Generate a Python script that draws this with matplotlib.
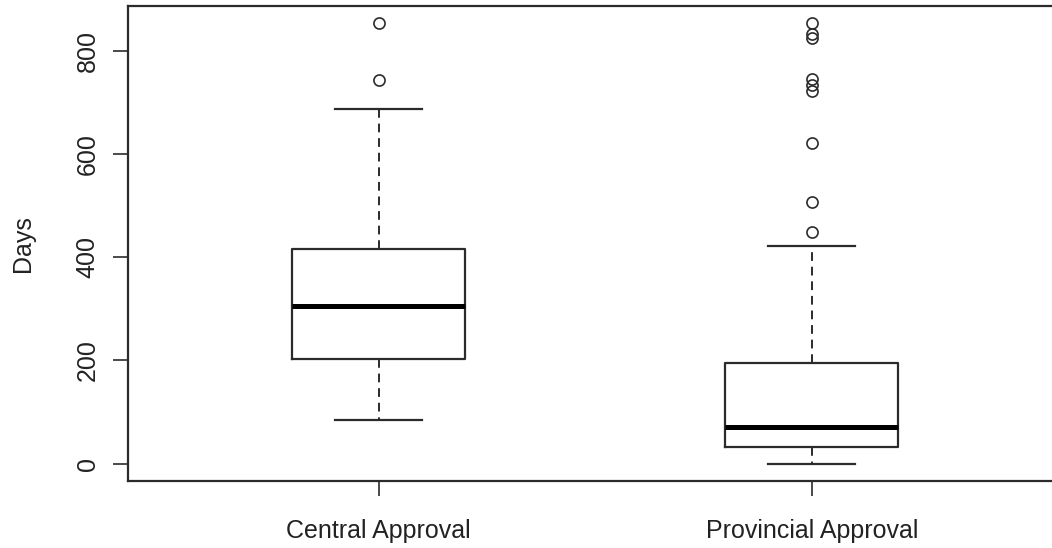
import matplotlib
matplotlib.use('Agg')
import matplotlib.pyplot as plt

plt.rcParams['font.family'] = ['Liberation Sans', 'DejaVu Sans']

# Summary statistics per group (days)
groups = ['Central Approval', 'Provincial Approval']
whisker_low = [85, 0]
q1 = [203, 32]
median = [306, 72]
q3 = [415, 195]
whisker_high = [687, 421]
outliers = [
    [744, 853],
    [449, 506, 621, 722, 733, 745, 824, 832, 853],
]
yticks = [0, 200, 400, 600, 800]

stats = []
for i, name in enumerate(groups):
    stats.append({
        'label': name,
        'whislo': whisker_low[i],
        'q1': q1[i],
        'med': median[i],
        'q3': q3[i],
        'whishi': whisker_high[i],
        'fliers': outliers[i],
    })

fig = plt.figure(figsize=(10.52, 5.48), dpi=100)
# plot region runs a little past the right edge of the canvas
ax = fig.add_axes([127.5 / 1052, (548 - 481.3) / 548,
                   (1063 - 127.5) / 1052, (481.3 - 5.7) / 548])

dark = '#2b2b2b'
ax.bxp(stats, positions=[1, 2], widths=0.4,
       boxprops=dict(color=dark, linewidth=1.6),
       medianprops=dict(color='black', linewidth=3.6, solid_capstyle='butt'),
       whiskerprops=dict(color=dark, linewidth=1.4, linestyle=(0, (4.5, 3))),
       capprops=dict(color=dark, linewidth=1.6),
       capwidths=0.2,
       flierprops=dict(marker='o', markersize=8, markerfacecolor='none',
                       markeredgecolor=dark, markeredgewidth=1.2))

# R-style 4% padding on both axes
allv = whisker_low + [v for f in outliers for v in f]
lo, hi = min(allv), max(allv)
pad = 0.04 * (hi - lo)
ax.set_ylim(lo - pad, hi + pad)
ax.set_xlim(0.5 - 0.08, 2.5 + 0.08)

ax.set_yticks(yticks)
ax.set_yticklabels([str(v) for v in yticks], rotation=90, va='center')
ax.set_xticks([1, 2])
ax.set_xticklabels(groups)
ax.tick_params(axis='both', length=11, width=1.2, color=dark,
               labelsize=18, labelcolor='#222222')
ax.tick_params(axis='y', pad=9)
ax.tick_params(axis='x', pad=16)
ax.set_ylabel('Days', fontsize=18, color='#222222', labelpad=29)

for s in ax.spines.values():
    s.set_color(dark)
    s.set_linewidth(1.6)

fig.savefig('out.png', dpi=100)
